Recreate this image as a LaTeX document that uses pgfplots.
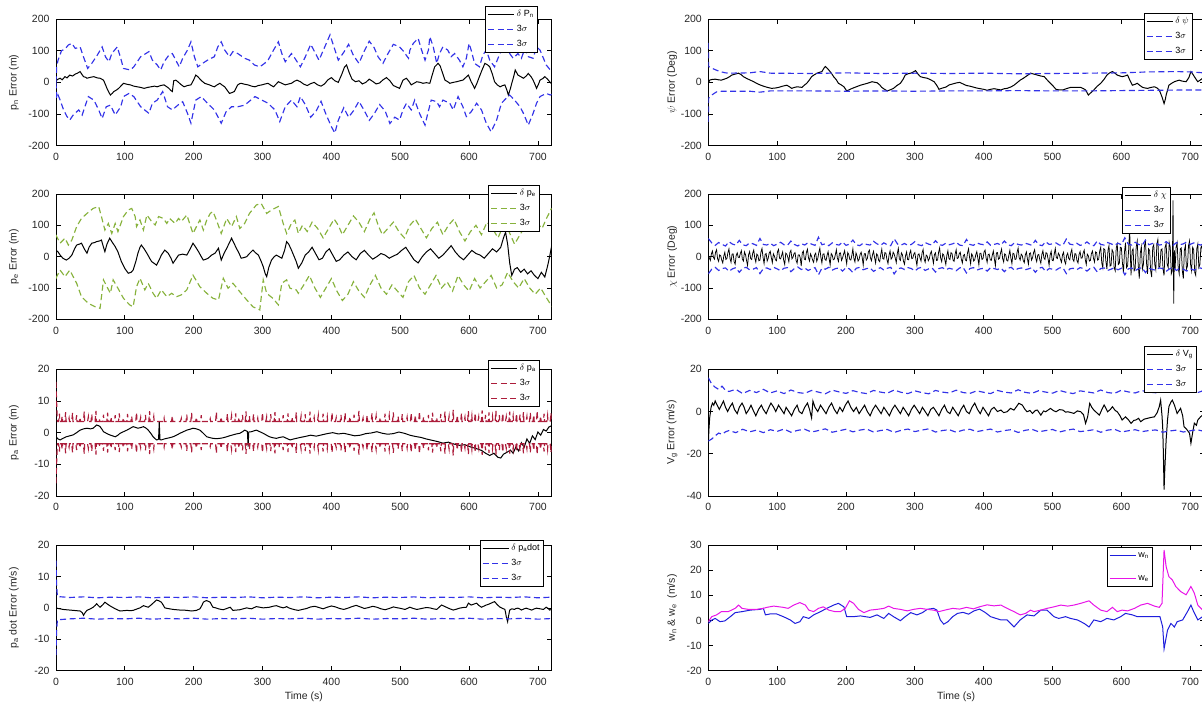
\documentclass[border=0pt]{standalone}
\usepackage{fontspec}
\setmainfont{Liberation Sans}
\usepackage{pgfplots}
\usepackage{pgfplotstable}
\pgfplotsset{compat=1.18}

\definecolor{sigblue}{RGB}{50,50,232}
\definecolor{siggreen}{RGB}{135,178,60}
\definecolor{sigred}{RGB}{172,28,58}
\definecolor{wmag}{RGB}{232,20,232}
\definecolor{wblue}{RGB}{30,30,220}

\pgfplotsset{
  panel/.style={
    scale only axis, width=495.7pt,
    xmin=0, xmax=720, xtick={0,100,...,700},
    tick align=inside, tick pos=both,
    xticklabel pos=lower, yticklabel pos=left,
    axis line style={line width=0.7pt},
    tick style={draw=black, line width=0.7pt},
    major tick length=4.5pt,
    /pgf/number format/assume math mode=true,
    tick label style={font=\fontsize{10.5}{12}\selectfont, text=black!85},
    xticklabel style={yshift=-4pt},
    yticklabel style={xshift=-3pt},
    label style={font=\fontsize{10.5}{12}\selectfont, text=black!85},
    legend cell align=left,
    legend style={font=\fontsize{9}{10}\selectfont, line width=0.7pt,
      fill=white, inner xsep=2pt, inner ysep=1.5pt, row sep=2pt, anchor=north east,
      nodes={inner sep=2pt, text height=7pt, text depth=2pt}},
    legend image code/.code={\draw[##1, line width=1.3pt] (0pt,0pt) -- (26pt,0pt);},
  },
  leftcol/.style={ylabel style={at={(axis description cs:-0.085,0.5)}, anchor=center}},
  rightcol/.style={ylabel style={at={(axis description cs:-0.073,0.5)}, anchor=center}},
  % stroke colours are given with draw= so that they stay on the stroke only
  blk/.style={draw=black, line width=1pt},
  dsh/.style={line width=1.15pt, dash pattern=on 6pt off 3.5pt},
  sb/.style={draw=sigblue, dsh},
  sg/.style={draw=siggreen, dsh},
  sr/.style={draw=sigred, dsh},
}

% 3-sigma bound of the altitude error (GPS update spikes)
\pgfplotstableread[row sep=\\]{
t s\\ 0 16\\ 1 9\\ 2 3.5\\
3.8 3.5\\ 5 6.0\\ 5.6 3.5\\ 7.8 3.5\\ 9 5.2\\ 9.6 3.5\\ 12.8 3.5\\ 14 6.5\\ 14.6 3.5\\
17.8 3.5\\ 19 4.6\\ 19.6 3.5\\ 22.8 3.5\\ 24 6.2\\ 24.6 3.5\\ 28.8 3.5\\ 30 5.5\\ 30.6 3.5\\
33.8 3.5\\ 35 4.8\\ 35.6 3.5\\ 39.8 3.5\\ 41 6.6\\ 41.6 3.5\\ 45.8 3.5\\ 47 5.0\\ 47.6 3.5\\
50.8 3.5\\ 52 5.8\\ 52.6 3.5\\ 56.8 3.5\\ 58 6.9\\ 58.6 3.5\\ 61.8 3.5\\ 63 4.5\\ 63.6 3.5\\
67.8 3.5\\ 69 5.7\\ 69.6 3.5\\ 73.8 3.5\\ 75 6.3\\ 75.6 3.5\\ 78.8 3.5\\ 80 4.9\\ 80.6 3.5\\
84.8 3.5\\ 86 5.5\\ 86.6 3.5\\ 90.8 3.5\\ 92 6.1\\ 92.6 3.5\\ 96.8 3.5\\ 98 4.7\\ 98.6 3.5\\
102.8 3.5\\ 104 5.9\\ 104.6 3.5\\ 108.8 3.5\\ 110 5.2\\ 110.6 3.5\\ 115.8 3.5\\ 117 6.4\\ 117.6 3.5\\
121.8 3.5\\ 123 4.8\\ 123.6 3.5\\ 128.8 3.5\\ 130 5.6\\ 130.6 3.5\\ 134.8 3.5\\ 136 6.8\\ 136.6 3.5\\
140.8 3.5\\ 142 5.1\\ 142.6 3.5\\ 155.8 3.5\\ 157 4.6\\ 157.6 3.5\\ 167.8 3.5\\ 169 5.3\\ 169.6 3.5\\
180.8 3.5\\ 182 4.5\\ 182.6 3.5\\ 188.8 3.5\\ 190 5.7\\ 190.6 3.5\\ 195.8 3.5\\ 197 6.2\\ 197.6 3.5\\
202.8 3.5\\ 204 4.9\\ 204.6 3.5\\ 209.8 3.5\\ 211 5.5\\ 211.6 3.5\\ 222.8 3.5\\ 224 4.4\\ 224.6 3.5\\
231.8 3.5\\ 233 6.5\\ 233.6 3.5\\ 238.8 3.5\\ 240 5.0\\ 240.6 3.5\\ 247.8 3.5\\ 249 6.0\\ 249.6 3.5\\
253.8 3.5\\ 255 5.3\\ 255.6 3.5\\ 259.8 3.5\\ 261 6.1\\ 261.6 3.5\\ 264.8 3.5\\ 266 4.8\\ 266.6 3.5\\
269.8 3.5\\ 271 5.6\\ 271.6 3.5\\ 274.8 3.5\\ 276 6.7\\ 276.6 3.5\\ 279.8 3.5\\ 281 5.2\\ 281.6 3.5\\
285.8 3.5\\ 287 5.9\\ 287.6 3.5\\ 291.8 3.5\\ 293 4.6\\ 293.6 3.5\\ 298.8 3.5\\ 300 6.3\\ 300.6 3.5\\
304.8 3.5\\ 306 5.0\\ 306.6 3.5\\ 310.8 3.5\\ 312 5.8\\ 312.6 3.5\\ 316.8 3.5\\ 318 6.5\\ 318.6 3.5\\
322.8 3.5\\ 324 4.7\\ 324.6 3.5\\ 328.8 3.5\\ 330 5.5\\ 330.6 3.5\\ 335.8 3.5\\ 337 6.1\\ 337.6 3.5\\
341.8 3.5\\ 343 4.9\\ 343.6 3.5\\ 347.8 3.5\\ 349 6.4\\ 349.6 3.5\\ 354.8 3.5\\ 356 5.2\\ 356.6 3.5\\
360.8 3.5\\ 362 5.8\\ 362.6 3.5\\ 367.8 3.5\\ 369 6.6\\ 369.6 3.5\\ 373.8 3.5\\ 375 4.8\\ 375.6 3.5\\
379.8 3.5\\ 381 5.4\\ 381.6 3.5\\ 386.8 3.5\\ 388 6.0\\ 388.6 3.5\\ 392.8 3.5\\ 394 5.1\\ 394.6 3.5\\
399.8 3.5\\ 401 6.3\\ 401.6 3.5\\ 405.8 3.5\\ 407 4.7\\ 407.6 3.5\\ 412.8 3.5\\ 414 5.6\\ 414.6 3.5\\
418.8 3.5\\ 420 6.2\\ 420.6 3.5\\ 425.8 3.5\\ 427 5.0\\ 427.6 3.5\\ 431.8 3.5\\ 433 5.7\\ 433.6 3.5\\
438.8 3.5\\ 440 6.9\\ 440.6 3.5\\ 444.8 3.5\\ 446 4.6\\ 446.6 3.5\\ 450.8 3.5\\ 452 5.5\\ 452.6 3.5\\
457.8 3.5\\ 459 6.1\\ 459.6 3.5\\ 463.8 3.5\\ 465 5.3\\ 465.6 3.5\\ 469.8 3.5\\ 471 4.8\\ 471.6 3.5\\
476.8 3.5\\ 478 6.0\\ 478.6 3.5\\ 482.8 3.5\\ 484 5.4\\ 484.6 3.5\\ 488.8 3.5\\ 490 6.4\\ 490.6 3.5\\
495.8 3.5\\ 497 5.1\\ 497.6 3.5\\ 501.8 3.5\\ 503 5.8\\ 503.6 3.5\\ 508.8 3.5\\ 510 4.9\\ 510.6 3.5\\
514.8 3.5\\ 516 6.2\\ 516.6 3.5\\ 520.8 3.5\\ 522 5.5\\ 522.6 3.5\\ 526.8 3.5\\ 528 6.7\\ 528.6 3.5\\
532.8 3.5\\ 534 5.0\\ 534.6 3.5\\ 539.8 3.5\\ 541 5.6\\ 541.6 3.5\\ 545.8 3.5\\ 547 6.3\\ 547.6 3.5\\
551.8 3.5\\ 553 4.8\\ 553.6 3.5\\ 557.8 3.5\\ 559 5.9\\ 559.6 3.5\\ 563.8 3.5\\ 565 6.6\\ 565.6 3.5\\
569.8 3.5\\ 571 5.2\\ 571.6 3.5\\ 575.8 3.5\\ 577 7.2\\ 577.6 3.5\\ 581.8 3.5\\ 583 5.5\\ 583.6 3.5\\
587.8 3.5\\ 589 6.1\\ 589.6 3.5\\ 592.8 3.5\\ 594 4.9\\ 594.6 3.5\\ 597.8 3.5\\ 599 6.8\\ 599.6 3.5\\
602.8 3.5\\ 604 5.4\\ 604.6 3.5\\ 607.8 3.5\\ 609 6.2\\ 609.6 3.5\\ 612.8 3.5\\ 614 5.0\\ 614.6 3.5\\
617.8 3.5\\ 619 7.0\\ 619.6 3.5\\ 622.8 3.5\\ 624 5.6\\ 624.6 3.5\\ 627.8 3.5\\ 629 6.4\\ 629.6 3.5\\
632.8 3.5\\ 634 5.2\\ 634.6 3.5\\ 637.8 3.5\\ 639 6.9\\ 639.6 3.5\\ 642.8 3.5\\ 644 5.5\\ 644.6 3.5\\
647.8 3.5\\ 649 6.1\\ 649.6 3.5\\ 652.8 3.5\\ 654 5.0\\ 654.6 3.5\\ 657.8 3.5\\ 659 6.6\\ 659.6 3.5\\
662.8 3.5\\ 664 5.3\\ 664.6 3.5\\ 667.8 3.5\\ 669 6.0\\ 669.6 3.5\\ 672.8 3.5\\ 674 5.7\\ 674.6 3.5\\
677.8 3.5\\ 679 6.5\\ 679.6 3.5\\ 682.8 3.5\\ 684 5.1\\ 684.6 3.5\\ 687.8 3.5\\ 689 6.2\\ 689.6 3.5\\
692.8 3.5\\ 694 5.6\\ 694.6 3.5\\ 697.8 3.5\\ 699 6.8\\ 699.6 3.5\\ 702.8 3.5\\ 704 5.2\\ 704.6 3.5\\
707.8 3.5\\ 709 6.0\\ 709.6 3.5\\ 712.8 3.5\\ 714 5.4\\ 714.6 3.5\\ 717.8 3.5\\ 719 6.3\\ 719.6 3.5\\
720 3.5\\
}\pdsigma

\begin{document}
\begin{tikzpicture}[x=1pt,y=1pt]
\useasboundingbox (0,0) rectangle (1202,-705);

% ---------------- north position error ----------------
\begin{axis}[panel, leftcol, at={(56pt,-19pt)}, anchor=north west, height=126.7pt,
  ymin=-200, ymax=200, ytick={-200,-100,0,100,200},
  ylabel={p\textsubscript{n} Error (m)},
  legend style={at={(0.97236,1.102604)}}]
\addplot[blk] coordinates {(0,5)(3,10)(6,13)(9,8)(13,18)(16,14)(20,23)(24,20)(28,26)(32,30)(35,34)(38,24)(40,18)(43,16)(45,13)(50,16)(55,18)(60,14)(64,13)(69,7)(72,-8)(74,-19)(77,-32)(79,-40)(82,-34)(84,-29)(88,-24)(91,-19)(95,-10)(98,-3)(103,-6)(108,-8)(113,-12)(118,-14)(123,-16)(128,-19)(133,-16)(138,-14)(143,-12)(147,-14)(152,-10)(157,-8)(161,-14)(164,-19)(167,-26)(169,-29)(171,5)(174,7)(177,2)(181,-6)(186,-14)(191,-10)(196,-8)(200,8)(203,23)(206,18)(208,13)(212,4)(216,-3)(220,-6)(223,-8)(227,-12)(230,-14)(234,-8)(238,-3)(241,-8)(245,-14)(249,-26)(252,-35)(256,-32)(259,-29)(262,-16)(264,-8)(267,-4)(269,-3)(274,-6)(279,-8)(284,-12)(289,-14)(294,-10)(299,-8)(304,-5)(308,-3)(312,-9)(316,-14)(320,-5)(323,2)(328,-3)(333,-8)(338,-5)(342,-3)(346,3)(350,7)(355,2)(360,-6)(365,-10)(370,-4)(375,0)(380,-8)(385,-12)(390,-5)(395,8)(400,15)(405,5)(410,0)(415,25)(419,48)(422,55)(426,30)(430,10)(435,2)(440,5)(445,-5)(450,0)(455,10)(460,3)(465,-5)(470,-2)(475,8)(480,15)(485,5)(490,-10)(495,-15)(499,-19)(504,7)(509,13)(513,2)(516,-8)(520,-3)(524,2)(529,0)(533,-3)(538,-1)(543,-3)(546,20)(550,49)(555,60)(558,52)(560,39)(563,20)(565,7)(569,2)(572,-3)(577,0)(582,2)(587,5)(591,7)(595,15)(599,23)(603,2)(606,-10)(608,-19)(611,-5)(615,18)(619,40)(623,60)(627,55)(630,49)(634,25)(637,2)(641,-8)(645,-14)(649,-10)(652,-8)(655,-25)(657,-40)(660,-20)(662,-3)(665,20)(667,39)(671,23)(675,18)(679,13)(683,20)(686,28)(690,18)(693,7)(696,-8)(698,-19)(701,-5)(703,7)(707,12)(710,18)(714,10)(717,2)(720,-5)};
\addlegendentry{$\delta$ P\textsubscript{n}}
\addplot[sb] coordinates {(0,0)(1,50)(3,70)(8,100)(13,105)(18,118)(23,123)(28,107)(35,112)(40,80)(46,44)(52,60)(60,86)(67,112)(72,80)(77,65)(81,91)(89,112)(94,76)(98,44)(108,39)(113,49)(123,81)(135,97)(140,70)(147,55)(152,39)(157,65)(164,86)(169,91)(174,70)(179,49)(184,76)(191,102)(196,128)(201,81)(206,49)(213,60)(220,70)(230,81)(235,112)(240,128)(245,102)(252,81)(257,97)(264,91)(274,76)(281,70)(288,55)(296,49)(303,60)(308,70)(316,102)(323,128)(328,91)(333,65)(342,91)(347,76)(355,49)(362,80)(370,120)(376,95)(382,70)(390,110)(398,150)(404,110)(410,70)(418,95)(425,120)(432,85)(440,60)(448,100)(455,130)(462,110)(468,80)(475,60)(482,90)(490,120)(499,112)(504,100)(507,91)(512,76)(514,102)(519,123)(526,139)(531,102)(536,70)(541,102)(543,144)(548,112)(553,60)(557,91)(562,112)(569,102)(574,81)(579,91)(586,70)(591,49)(596,76)(600,123)(603,102)(608,60)(615,49)(620,86)(625,102)(630,70)(637,49)(642,76)(647,102)(652,118)(659,91)(664,76)(671,91)(676,76)(681,107)(686,81)(693,76)(698,112)(703,102)(708,76)(712,55)(718,39)(720,40)};
\addlegendentry{3$\sigma$}
\addplot[sb] coordinates {(0,0)(1,-50)(3,-40)(6,-56)(11,-87)(16,-108)(20,-119)(25,-103)(33,-87)(38,-103)(42,-77)(47,-45)(55,-56)(62,-87)(67,-114)(73,-77)(79,-72)(86,-103)(94,-77)(98,-45)(106,-35)(113,-45)(123,-77)(135,-98)(140,-66)(147,-56)(155,-29)(162,-77)(169,-87)(177,-72)(184,-61)(191,-98)(196,-129)(203,-56)(211,-45)(220,-66)(230,-87)(240,-129)(247,-93)(255,-77)(264,-77)(274,-72)(289,-45)(299,-56)(308,-66)(318,-87)(325,-124)(333,-77)(342,-56)(350,-77)(355,-45)(362,-70)(370,-110)(378,-90)(385,-60)(392,-100)(400,-140)(405,-160)(410,-120)(418,-80)(425,-110)(432,-90)(440,-60)(448,-90)(455,-120)(462,-100)(470,-70)(478,-90)(485,-130)(492,-110)(499,-119)(504,-87)(509,-66)(516,-87)(521,-56)(528,-98)(536,-135)(540,-98)(545,-56)(553,-61)(557,-77)(562,-56)(572,-66)(577,-87)(584,-45)(591,-77)(596,-108)(603,-93)(611,-66)(618,-87)(625,-129)(632,-156)(640,-119)(647,-66)(654,-50)(659,-40)(666,-56)(674,-77)(679,-98)(686,-135)(693,-98)(698,-66)(703,-45)(712,-35)(718,-40)(720,-38)};
\addlegendentry{3$\sigma$}
\end{axis}

% ---------------- east position error ----------------
\begin{axis}[panel, leftcol, at={(56pt,-194pt)}, anchor=north west, height=125.3pt,
  ymin=-200, ymax=200, ytick={-200,-100,0,100,200},
  ylabel={p\textsubscript{e} Error (m)},
  legend style={at={(0.97640,1.071828)}}]
\addplot[blk] coordinates {(0,21)(3,15)(6,5)(10,-5)(15,-11)(19,-5)(23,5)(27,25)(30,37)(34,40)(37,43)(41,25)(45,11)(48,30)(52,43)(56,45)(59,48)(63,50)(66,53)(69,30)(71,16)(74,40)(78,59)(82,45)(86,32)(90,15)(95,-16)(100,-38)(105,-53)(109,-50)(112,-43)(116,-15)(119,11)(122,30)(124,37)(128,25)(132,11)(136,-5)(139,-16)(143,-22)(146,-27)(150,-10)(153,5)(158,21)(163,11)(167,-5)(170,-21)(174,-8)(178,5)(184,8)(190,5)(195,25)(199,43)(203,30)(207,16)(211,0)(214,-11)(218,-8)(221,-5)(226,5)(231,11)(236,27)(240,-11)(244,10)(248,27)(252,45)(255,59)(258,45)(262,27)(266,10)(269,-5)(273,-3)(277,0)(281,10)(286,21)(290,12)(294,5)(298,-15)(301,-32)(304,-55)(306,-64)(309,-35)(313,-11)(317,0)(320,5)(324,0)(328,-5)(332,20)(335,48)(338,40)(342,21)(346,0)(349,-16)(352,-37)(357,-20)(362,5)(367,15)(372,30)(377,10)(382,-10)(387,-5)(392,15)(397,25)(402,5)(407,-15)(412,-10)(418,5)(424,15)(430,0)(436,-10)(442,10)(448,20)(454,5)(460,-8)(466,0)(472,10)(478,5)(484,-5)(490,2)(496,8)(502,20)(508,30)(514,10)(520,-10)(526,-20)(532,0)(538,15)(544,25)(550,10)(556,-5)(562,5)(568,20)(574,35)(580,15)(586,0)(592,-10)(598,5)(604,20)(610,10)(616,5)(622,-5)(628,10)(634,25)(640,15)(646,30)(650,60)(653,78)(656,40)(659,-20)(662,-60)(666,-40)(670,-35)(675,-50)(680,-40)(685,-55)(690,-45)(695,-60)(700,-70)(705,-50)(710,-65)(714,-30)(717,0)(720,35)};
\addlegendentry{$\delta$ p\textsubscript{e}}
\addplot[sg] coordinates {(0,70)(1,64)(6,43)(13,59)(18,37)(23,53)(30,96)(37,122)(45,138)(54,154)(62,160)(66,128)(71,85)(76,106)(81,74)(86,106)(90,80)(98,128)(105,149)(110,154)(115,128)(117,96)(122,117)(127,85)(132,133)(139,112)(144,101)(149,128)(156,122)(161,106)(165,122)(173,106)(178,122)(182,112)(190,133)(199,74)(204,96)(209,117)(214,85)(219,117)(224,138)(228,144)(233,117)(240,74)(248,122)(255,96)(262,128)(267,90)(274,106)(281,138)(291,165)(298,170)(306,138)(313,149)(323,160)(330,106)(335,74)(342,106)(347,117)(352,74)(358,100)(365,80)(372,110)(380,90)(388,60)(396,90)(404,120)(410,100)(416,70)(424,100)(432,130)(440,110)(448,80)(456,120)(462,140)(468,100)(474,70)(482,90)(490,110)(498,80)(506,60)(514,100)(522,120)(530,90)(538,60)(546,90)(554,110)(562,70)(570,100)(578,120)(586,80)(594,50)(602,80)(610,100)(618,70)(626,110)(634,90)(642,60)(650,100)(658,80)(666,40)(674,70)(682,100)(690,80)(698,110)(706,90)(712,120)(720,155)};
\addlegendentry{3$\sigma$}
\addplot[sg] coordinates {(0,-70)(1,-64)(6,-43)(13,-64)(20,-43)(30,-85)(37,-128)(47,-149)(57,-160)(64,-165)(69,-74)(74,-96)(79,-117)(83,-74)(90,-101)(98,-133)(107,-154)(112,-160)(117,-96)(122,-69)(129,-106)(134,-85)(141,-117)(146,-133)(153,-106)(161,-128)(168,-117)(175,-128)(182,-122)(190,-106)(199,-59)(209,-96)(219,-117)(228,-133)(236,-138)(243,-69)(250,-101)(257,-85)(267,-112)(277,-138)(286,-160)(296,-170)(301,-74)(306,-117)(315,-133)(323,-154)(328,-85)(335,-74)(340,-101)(349,-106)(352,-117)(360,-90)(368,-60)(376,-100)(384,-130)(392,-100)(400,-70)(408,-110)(416,-140)(424,-120)(432,-80)(440,-110)(448,-130)(456,-90)(464,-60)(472,-100)(480,-120)(488,-90)(496,-110)(504,-130)(512,-80)(520,-60)(528,-100)(536,-120)(544,-90)(552,-60)(560,-100)(568,-80)(576,-110)(584,-60)(592,-90)(600,-110)(608,-70)(616,-100)(624,-80)(632,-60)(640,-100)(648,-90)(656,-50)(664,-80)(672,-100)(680,-70)(688,-100)(696,-120)(704,-100)(712,-130)(720,-158)};
\addlegendentry{3$\sigma$}
\end{axis}

% ---------------- altitude error ----------------
\begin{axis}[panel, leftcol, at={(56pt,-369.3pt)}, anchor=north west, height=126.7pt,
  ymin=-20, ymax=20, ytick={-20,-10,0,10,20},
  ylabel={p\textsubscript{a} Error (m)},
  legend style={at={(0.97640,1.073402)}}]
\addplot[blk] coordinates {(0,-1.3)(3,-2)(6,-2.3)(10,-1.8)(15,-1.3)(20,-1)(25,-0.7)(30,0)(35,0.8)(40,1.2)(45,1.4)(50,1.2)(54,1.4)(59,2.4)(62,2.2)(64,1.9)(67,1)(69,0.3)(74,-0.3)(78,-0.7)(82,-1)(86,-1.3)(90,-0.8)(93,-0.2)(98,0.3)(103,0.8)(108,1.4)(112,1.9)(115,1.7)(119,1.4)(123,1.6)(127,1.9)(131,1.4)(134,0.8)(138,-0.3)(141,-1.3)(144,-1.9)(146,-2.3)(148,-2.2)(149,-2)(150,3.5)(151,-2.2)(153,-2.3)(157,-2)(161,-1.8)(165,-1.6)(170,-1.3)(175,-0.8)(180,-0.2)(185,0.3)(190,0.8)(195,1.1)(199,1.4)(204,1.2)(209,0.8)(214,-0.2)(219,-1.3)(224,-1.6)(228,-1.8)(233,-1.9)(238,-1.8)(243,-1.6)(248,-1.3)(252,-1)(257,-0.7)(262,-0.4)(267,-0.2)(271,0.3)(274,0.8)(277,0.5)(278,0.4)(279,-4.4)(280,0.2)(284,0.3)(288,0.6)(291,0.8)(296,0.3)(301,-0.2)(305,-0.7)(310,-1.3)(315,-1.6)(320,-1.8)(325,-1.5)(330,-1.3)(335,-1.8)(340,-2.3)(345,-2)(349,-1.8)(355,-1.5)(362,-1.2)(370,-0.8)(378,-1.1)(386,-0.7)(394,-0.3)(402,0)(410,-0.4)(418,-0.2)(426,-0.6)(434,-1)(442,-0.8)(450,-0.3)(458,-0.1)(466,0.3)(474,-0.2)(482,-0.5)(490,-0.3)(498,0.2)(506,-0.2)(514,-0.8)(522,-1.2)(530,-1.5)(538,-2)(546,-2.4)(554,-2.8)(562,-3.3)(570,-3.0)(578,-3.6)(586,-4.0)(594,-3.8)(602,-4.5)(610,-5.0)(618,-5.6)(624,-6.5)(630,-7.2)(636,-6.5)(642,-7.8)(646,-8.0)(650,-6.8)(655,-6.2)(660,-5.5)(664,-6.5)(668,-4.5)(672,-5.8)(676,-3.2)(680,-4.6)(684,-2.0)(688,-3.4)(692,-1.0)(696,-2.2)(700,0.2)(704,-0.8)(708,1)(712,0.5)(716,1.8)(720,2.2)};
\addlegendentry{$\delta$ p\textsubscript{a}}
\addplot[sr] table[x=t, y=s] {\pdsigma};
\addlegendentry{3$\sigma$}
\addplot[sr] table[x=t, y expr=-\thisrow{s}] {\pdsigma};
\addlegendentry{3$\sigma$}
\end{axis}

% ---------------- climb-rate error ----------------
\begin{axis}[panel, leftcol, at={(56pt,-545pt)}, anchor=north west, height=125.7pt,
  ymin=-20, ymax=20, ytick={-20,-10,0,10,20},
  ylabel={p\textsubscript{a} dot Error (m/s)}, xlabel={Time (s)},
  xlabel style={at={(axis description cs:0.5,-0.209)}, anchor=center},
  legend style={at={(0.98447,1.039777)}}]
\addplot[blk] coordinates {(0,0)(3,-0.2)(6,-0.3)(10,-0.5)(15,-0.6)(20,-0.7)(25,-0.8)(30,-0.9)(35,-1)(38,-1.5)(40,-2.4)(42,-1.6)(45,-0.8)(50,-0.3)(54,0.2)(57,0.8)(59,1.3)(62,0.6)(64,0.2)(68,1.0)(71,1.8)(74,1.3)(78,0.7)(82,0.2)(86,-0.3)(90,-0.7)(93,-1)(98,-0.9)(103,-0.8)(108,-0.9)(112,-0.8)(117,-0.4)(122,0)(127,0.7)(131,0.4)(134,0.2)(138,0.9)(141,1.5)(144,2.1)(146,2.5)(150,2.2)(153,1.8)(156,0.8)(158,0)(162,-0.2)(165,-0.3)(170,-0.5)(175,-0.6)(180,-0.7)(185,-0.7)(190,-0.8)(197,-1)(204,-0.8)(209,-0.3)(212,0.8)(214,1.8)(217,2.2)(219,2.3)(222,2.0)(224,1.8)(226,0.9)(228,0.2)(232,0)(236,-0.3)(240,-0.5)(243,-0.6)(248,-0.2)(253,0.2)(255,-0.3)(257,-0.8)(262,-0.7)(267,-0.6)(272,-0.3)(277,0)(281,-0.2)(284,-0.3)(288,0.1)(291,0.4)(296,0.2)(301,0)(306,0.1)(310,0.2)(315,0.5)(320,0.7)(325,0.3)(330,0)(333,0.2)(335,0.4)(338,0)(342,-0.3)(347,-0.6)(352,-0.8)(358,-0.5)(364,-0.2)(370,0.3)(376,0.5)(382,0.1)(388,-0.3)(394,0.2)(400,0.6)(406,0.3)(412,-0.2)(418,-0.5)(424,-0.1)(430,0.4)(436,0.8)(442,0.3)(448,-0.2)(454,0.1)(460,0.5)(466,0.2)(472,-0.3)(478,-0.6)(484,-0.2)(490,0.3)(494,0.1)(499,-0.1)(503,-0.3)(507,-0.5)(511,-0.1)(514,0.2)(519,-0.2)(524,-0.5)(529,-0.3)(533,-0.1)(538,0.1)(543,0)(548,-0.3)(553,-0.5)(557,0.3)(560,0.9)(564,0.5)(567,0.2)(572,-0.3)(577,-0.7)(582,-0.4)(586,-0.1)(591,0.1)(596,0.2)(599,1.5)(601,1.2)(603,0.9)(607,1.2)(611,1.5)(614,0.8)(618,0.2)(622,0.6)(625,0.9)(629,1.2)(632,1.5)(635,1.8)(637,2.0)(641,1.0)(645,0.2)(649,-0.2)(652,-0.5)(653,-1.5)(654,-2.8)(656,-4.4)(657,-3)(659,-0.7)(662,-0.3)(666,-0.5)(668,-0.2)(671,-0.1)(674,-0.4)(676,-0.7)(680,-0.3)(683,-0.1)(687,-0.4)(691,-0.7)(695,-0.3)(698,-0.1)(703,-0.3)(708,-0.5)(712,0.2)(715,-0.2)(717,-0.7)(720,-0.5)};
\addlegendentry{$\delta$ p\textsubscript{a}dot}
\addplot[sb] coordinates {(0,15)(1,7)(2,3.6)(20,3.3)(40,3.5)(60,3.2)(80,3.4)(100,3.3)(120,3.5)(140,3.2)(160,3.4)(180,3.3)(200,3.5)(220,3.2)(240,3.4)(260,3.3)(280,3.5)(300,3.2)(320,3.4)(340,3.3)(360,3.5)(380,3.2)(400,3.4)(420,3.3)(440,3.5)(460,3.2)(480,3.4)(500,3.3)(520,3.5)(540,3.2)(560,3.4)(580,3.3)(600,3.5)(620,3.2)(640,3.4)(660,3.3)(680,3.5)(700,3.2)(720,3.4)};
\addlegendentry{3$\sigma$}
\addplot[sb] coordinates {(0,-15)(1,-7)(2,-3.8)(20,-3.5)(40,-3.3)(60,-3.6)(80,-3.4)(100,-3.5)(120,-3.3)(140,-3.6)(160,-3.4)(180,-3.5)(200,-3.3)(220,-3.6)(240,-3.4)(260,-3.5)(280,-3.3)(300,-3.6)(320,-3.4)(340,-3.5)(360,-3.3)(380,-3.6)(400,-3.4)(420,-3.5)(440,-3.3)(460,-3.6)(480,-3.4)(500,-3.5)(520,-3.3)(540,-3.6)(560,-3.4)(580,-3.5)(600,-3.3)(620,-3.6)(640,-3.4)(660,-3.5)(680,-3.3)(700,-3.6)(720,-3.4)};
\addlegendentry{3$\sigma$}
\end{axis}

% ---------------- heading error ----------------
\begin{axis}[panel, rightcol, at={(708.3pt,-19pt)}, anchor=north west, height=126.7pt,
  ymin=-200, ymax=200, ytick={-200,-100,0,100,200},
  ylabel={$\psi$ Error (Deg)},
  legend style={at={(0.97781,1.047356)}}]
\addplot[blk] coordinates {(0,-3)(2,7)(5,9)(10,10)(15,8)(19,7)(23,10)(27,13)(31,18)(34,23)(39,26)(44,29)(48,24)(51,18)(56,12)(61,7)(66,2)(70,-3)(75,-8)(80,-12)(86,-16)(92,-19)(97,-18)(102,-16)(108,-12)(114,-9)(118,-14)(121,-19)(125,-16)(129,-14)(133,-15)(136,-16)(140,-8)(143,-3)(147,8)(150,18)(154,24)(158,29)(162,32)(165,34)(168,45)(170,50)(173,44)(175,39)(179,28)(182,18)(186,8)(189,-3)(193,-8)(197,-14)(201,-27)(205,-23)(209,-19)(215,-14)(221,-9)(226,-6)(231,-3)(238,2)(242,0)(245,-1)(249,-8)(252,-16)(256,-22)(260,-27)(265,-23)(269,-19)(274,-10)(279,-3)(283,10)(286,23)(290,27)(294,29)(298,33)(301,37)(305,25)(308,18)(313,15)(318,13)(323,8)(328,2)(332,-10)(335,-22)(340,-18)(345,-15)(350,-8)(355,-5)(360,-2)(365,0)(370,-5)(375,-10)(380,-12)(385,-15)(390,-18)(395,-20)(400,-22)(405,-25)(410,-22)(415,-20)(420,-22)(425,-24)(430,-20)(434,-19)(440,-14)(444,-9)(448,-2)(453,7)(457,12)(461,18)(465,24)(468,29)(473,26)(478,23)(483,20)(488,18)(492,8)(497,-3)(501,-12)(505,-22)(510,-24)(515,-24)(520,-20)(526,-16)(533,-16)(541,-16)(545,-20)(548,-24)(550,-32)(552,-40)(556,-32)(560,-24)(565,-12)(570,-3)(575,10)(579,23)(583,30)(587,34)(590,30)(594,23)(598,20)(601,18)(605,20)(609,23)(612,8)(616,-9)(620,-6)(623,-3)(627,-10)(631,-16)(635,-18)(638,-19)(643,-16)(648,-14)(652,-18)(655,-24)(657,-35)(659,-46)(661,-60)(662,-67)(664,-52)(665,-40)(667,-25)(669,-9)(673,-3)(677,2)(681,5)(684,7)(688,4)(694,2)(698,15)(701,34)(704,25)(706,18)(709,8)(711,2)(715,8)(718,13)(720,10)};
\addlegendentry{$\delta$ $\psi$}
\addplot[sb] coordinates {(0,125)(0.5,50)(5,45)(10,40)(17,34)(25,30)(30,29)(60,30)(75,34)(90,29)(150,28)(200,30)(250,28)(300,29)(350,28)(400,29)(450,27)(500,28)(550,29)(600,30)(640,33)(680,34)(700,33)(720,30)};
\addlegendentry{3$\sigma$}
\addplot[sb] coordinates {(0,-125)(0.5,-50)(5,-40)(12,-30)(20,-28)(60,-28)(75,-31)(90,-27)(150,-27)(200,-28)(250,-27)(300,-28)(350,-27)(400,-27)(450,-26)(500,-27)(550,-27)(600,-26)(650,-25)(700,-24)(720,-24)};
\addlegendentry{3$\sigma$}
\end{axis}

% ---------------- course error ----------------
\begin{axis}[panel, rightcol, at={(708.3pt,-194pt)}, anchor=north west, height=125.3pt,
  ymin=-200, ymax=200, ytick={-200,-100,0,100,200},
  ylabel={$\chi$ Error (Deg)},
  legend style={at={(0.93343,1.055866)}}]
\addplot[draw=black, line width=0.75pt] coordinates {(0,5)(1.5,-4)(3,-12)(4.5,9)(6,18)(7.5,-3)(9,-8)(10.5,14)(12,22)(13.5,-7)(15,-15)(16.5,6)(18,3)(19.5,-11)(21,-20)(22.5,2)(24,14)(25.5,-9)(27,-6)(28.5,13)(30,25)(31.5,-5)(33,-18)(34.5,8)(36,9)(37.5,-16)(39,-24)(40.5,4)(42,12)(43.5,-2)(45,-3)(46.5,10)(48,19)(49.5,-8)(51,-14)(52.5,15)(54,7)(55.5,-12)(57,-28)(58.5,6)
(60,16)(61.5,-6)(63,-9)(64.5,11)(66,21)(67.5,-4)(69,-17)(70.5,8)(72,4)(73.5,-13)(75,-11)(76.5,15)(78,26)(79.5,-2)(81,-22)(82.5,7)(84,10)(85.5,-14)(87,-5)(88.5,12)(90,17)(91.5,-3)(93,-19)(94.5,9)(96,2)(97.5,-10)(99,-13)(100.5,16)(102,23)(103.5,-5)(105,-7)(106.5,4)(108,15)(109.5,-12)(111,-25)(112.5,11)(114,8)(115.5,-2)(117,-16)(118.5,13)
(120,20)(121.5,-7)(123,-2)(124.5,10)(126,13)(127.5,-12)(129,-21)(130.5,5)(132,6)(133.5,-3)(135,-30)(136.5,12)(138,18)(139.5,-8)(141,-10)(142.5,14)(144,24)(145.5,-4)(147,-14)(148.5,9)(150,1)(151.5,-11)(153,-18)(154.5,6)(156,11)(157.5,-15)(159,-6)(160.5,13)(162,27)(163.5,-2)(165,-20)(166.5,8)(168,9)(169.5,-9)(171,-12)(172.5,4)(174,16)(175.5,-6)(177,-26)(178.5,10)
(180,5)(181.5,-10)(183,-8)(184.5,6)(186,22)(187.5,-5)(189,-15)(190.5,11)(192,12)(193.5,-12)(195,-4)(196.5,8)(198,19)(199.5,-3)(201,-23)(202.5,13)(204,7)(205.5,-9)(207,-11)(208.5,4)(210,25)(211.5,-6)(213,-17)(214.5,12)(216,3)(217.5,-14)(219,-9)(220.5,7)(222,14)(223.5,-2)(225,-27)(226.5,9)(228,10)(229.5,-11)(231,-6)(232.5,15)(234,21)(235.5,-4)(237,-13)(238.5,6)
(240,17)(241.5,-3)(243,-20)(244.5,9)(246,4)(247.5,-12)(249,-16)(250.5,7)(252,24)(253.5,-6)(255,-8)(256.5,13)(258,11)(259.5,-10)(261,-22)(262.5,5)(264,18)(265.5,-8)(267,-3)(268.5,14)(270,8)(271.5,-4)(273,-19)(274.5,10)(276,26)(277.5,-7)(279,-12)(280.5,12)(282,6)(283.5,-15)(285,-24)(286.5,3)(288,15)(289.5,-9)(291,-10)(292.5,11)(294,20)(295.5,-6)(297,-5)(298.5,8)
(300,13)(301.5,-9)(303,-28)(304.5,6)(306,9)(307.5,-4)(309,-14)(310.5,12)(312,23)(313.5,-8)(315,-18)(316.5,5)(318,2)(319.5,-13)(321,-7)(322.5,10)(324,17)(325.5,-3)(327,-21)(328.5,7)(330,12)(331.5,-12)(333,-11)(334.5,14)(336,28)(337.5,-5)(339,-16)(340.5,9)(342,5)(343.5,-10)(345,-25)(346.5,4)(348,19)(349.5,-6)(351,-9)(352.5,13)(354,10)(355.5,-11)(357,-15)(358.5,8)
(360,22)(361.5,-6)(363,-4)(364.5,10)(366,14)(367.5,-8)(369,-20)(370.5,4)(372,7)(373.5,-11)(375,-13)(376.5,12)(378,25)(379.5,-3)(381,-23)(382.5,9)(384,3)(385.5,-14)(387,-10)(388.5,6)(390,16)(391.5,-5)(393,-26)(394.5,11)(396,11)(397.5,-9)(399,-6)(400.5,15)(402,21)(403.5,-4)(405,-18)(406.5,7)(408,8)(409.5,-10)(411,-12)(412.5,5)(414,18)(415.5,-7)(417,-29)(418.5,12)
(420,13)(421.5,-8)(423,-5)(424.5,12)(426,24)(427.5,-6)(429,-17)(430.5,9)(432,6)(433.5,-12)(435,-14)(436.5,4)(438,20)(439.5,-5)(441,-22)(442.5,11)(444,9)(445.5,-9)(447,-8)(448.5,14)(450,27)(451.5,-3)(453,-11)(454.5,8)(456,4)(457.5,-13)(459,-19)(460.5,6)(462,15)(463.5,-7)(465,-24)(466.5,10)(468,12)(469.5,-11)(471,-3)(472.5,13)(474,22)(475.5,-4)(477,-16)(478.5,5)
(480,7)(481.5,-10)(483,-21)(484.5,7)(486,19)(487.5,-4)(489,-9)(490.5,13)(492,10)(493.5,-7)(495,-27)(496.5,5)(498,17)(499.5,-12)(501,-13)(502.5,9)(504,26)(505.5,-3)(507,-6)(508.5,11)(510,5)(511.5,-9)(513,-18)(514.5,6)(516,14)(517.5,-14)(519,-23)(520.5,4)(522,11)(523.5,-6)(525,-10)(526.5,12)(528,23)(529.5,-8)(531,-15)(532.5,10)(534,8)(535.5,-13)(537,-20)(538.5,7)
(540,16)(541.5,-5)(543,-4)(544.5,12)(546,21)(547.5,-9)(549,-25)(550.5,8)(552,3)(553.5,-14)(555,-12)(556.5,10)(558,18)(559.5,-6)(561,-17)(562.5,15)(564,13)(565.5,-11)(567,-8)(568.5,18)(570,30)(571.5,-20)(573,-35)(574.5,25)(576,22)(577.5,-15)(579,-40)(580.5,20)(582,35)(583.5,-30)(585,-28)(586.5,22)(588,15)(589.5,-35)(591,-45)(592.5,28)(594,40)(595.5,-25)(597,-22)(598.5,30)
(600,28)(601.5,-20)(603,-50)(604.5,15)(606,45)(607.5,-35)(609,-30)(610.5,20)(612,90)(613,10)(614,-60)(615.5,18)(617,25)(618.5,-45)(620,-38)(621.5,30)(623,50)(624.5,-28)(626,-70)(627.5,12)(629,32)(630.5,-40)(632,-25)(633.5,35)(635,48)(636.5,-20)(638,-55)(639.5,25)(641,20)(642.5,-45)(644,-65)(645.5,30)(647,38)(648.5,-25)(650,-42)(651.5,40)(653,55)(654.5,-35)(656,-30)(657.5,22)
(659,25)(660.5,-40)(662,-60)(663.5,30)(665,42)(666.5,-25)(668,-35)(669.5,45)(671,30)(672.5,-55)(674,-45)(675,180)(676,-150)(677,20)(678,-40)(679.5,30)(681,45)(682.5,-35)(684,-55)(685.5,25)(687,28)(688.5,-45)(690,-70)(691.5,20)(693,36)(694.5,-40)(696,-30)(697.5,35)(699,50)(700.5,-25)(702,-45)(703.5,30)(705,22)(706.5,-50)(708,-60)(709.5,25)(711,40)(712.5,-35)(714,-25)(715.5,30)(717,35)(718.5,-20)(720,-10)};
\addlegendentry{$\delta$ $\chi$}
\addplot[sb] coordinates {(0,58)(5,44)(10,36)(15,45)(20,39)(25,34)(30,48)(35,40)(40,37)(45,52)(50,38)(55,35)(60,44)(65,41)(70,36)(75,58)(80,39)(85,37)(90,43)(95,35)(100,40)(105,46)(110,38)(115,36)(120,50)(125,39)(130,34)(135,42)(140,37)(145,45)(150,40)(155,36)(160,62)(165,38)(170,41)(175,35)(180,44)(185,39)(190,37)(195,47)(200,36)(205,40)(210,53)(215,38)(220,35)(225,43)(230,39)(235,37)(240,49)(245,41)(250,36)(255,44)(260,38)(265,35)(270,57)(275,40)(280,37)(285,42)(290,36)(295,39)(300,48)(305,38)(310,35)(315,45)(320,40)(325,37)(330,51)(335,39)(340,36)(345,43)(350,38)(355,41)(360,46)(365,37)(370,35)(375,55)(380,39)(385,36)(390,44)(395,40)(400,38)(405,47)(410,36)(415,39)(420,42)(425,37)(430,50)(435,38)(440,35)(445,45)(450,39)(455,37)(460,43)(465,40)(470,36)(475,52)(480,38)(485,35)(490,48)(495,39)(500,41)(505,44)(510,37)(515,36)(520,56)(525,40)(530,38)(535,43)(540,36)(545,39)(550,47)(555,38)(560,35)(565,50)(570,39)(575,37)(580,45)(585,41)(590,36)(595,43)(600,38)(605,60)(610,40)(615,37)(620,46)(625,39)(630,36)(635,53)(640,38)(645,42)(650,44)(655,37)(660,39)(665,48)(670,40)(675,36)(680,45)(685,38)(690,41)(695,47)(700,39)(705,44)(710,40)(715,37)(720,42)};
\addlegendentry{3$\sigma$}
\addplot[sb] coordinates {(0,-55)(5,-40)(10,-34)(15,-44)(20,-38)(25,-36)(30,-47)(35,-39)(40,-35)(45,-50)(50,-37)(55,-34)(60,-42)(65,-40)(70,-35)(75,-54)(80,-38)(85,-36)(90,-41)(95,-34)(100,-39)(105,-45)(110,-37)(115,-35)(120,-48)(125,-38)(130,-33)(135,-41)(140,-36)(145,-44)(150,-39)(155,-35)(160,-58)(165,-37)(170,-40)(175,-34)(180,-43)(185,-38)(190,-36)(195,-46)(200,-35)(205,-39)(210,-51)(215,-37)(220,-34)(225,-42)(230,-38)(235,-36)(240,-47)(245,-40)(250,-35)(255,-43)(260,-37)(265,-34)(270,-55)(275,-39)(280,-36)(285,-41)(290,-35)(295,-38)(300,-46)(305,-37)(310,-34)(315,-44)(320,-39)(325,-36)(330,-49)(335,-38)(340,-35)(345,-42)(350,-37)(355,-40)(360,-45)(365,-36)(370,-34)(375,-52)(380,-38)(385,-35)(390,-43)(395,-39)(400,-37)(405,-46)(410,-35)(415,-38)(420,-41)(425,-36)(430,-48)(435,-37)(440,-34)(445,-44)(450,-38)(455,-36)(460,-42)(465,-39)(470,-35)(475,-50)(480,-37)(485,-34)(490,-47)(495,-38)(500,-40)(505,-43)(510,-36)(515,-35)(520,-54)(525,-39)(530,-37)(535,-42)(540,-35)(545,-38)(550,-46)(555,-37)(560,-34)(565,-49)(570,-38)(575,-36)(580,-44)(585,-40)(590,-35)(595,-42)(600,-37)(605,-58)(610,-39)(615,-36)(620,-45)(625,-38)(630,-35)(635,-51)(640,-37)(645,-41)(650,-43)(655,-36)(660,-38)(665,-47)(670,-39)(675,-35)(680,-44)(685,-37)(690,-40)(695,-46)(700,-38)(705,-43)(710,-39)(715,-36)(720,-41)};
\addlegendentry{3$\sigma$}
\end{axis}

% ---------------- ground speed error ----------------
\begin{axis}[panel, rightcol, at={(708.3pt,-369.3pt)}, anchor=north west, height=126.7pt,
  ymin=-40, ymax=20, ytick={-40,-20,0,20},
  ylabel={V\textsubscript{g} Error (m/s)},
  legend style={at={(0.98588,1.183899)}}]
\addplot[blk] coordinates {(0,-15)(1,-8)(2,-3)(4,2)(6,4)(8,3)(10,5)(13,3)(16,1)(19,3)(22,5)(25,2)(28,0)(31,2)(35,4)(38,1)(42,-1)(45,2)(49,4)(52,2)(55,-1)(59,1)(62,3)(66,0)(69,-2)(73,1)(77,3)(80,1)(84,-1)(88,2)(91,4)(95,2)(98,0)(102,3)(106,1)(110,-1)(113,2)(117,0)(121,-2)(125,1)(129,3)(132,0)(136,-1)(140,2)(144,4)(147,1)(150,-3)(152,5)(155,2)(159,0)(163,3)(167,1)(171,-1)(175,2)(179,4)(183,1)(187,-1)(191,2)(195,0)(199,3)(203,5)(207,2)(211,0)(215,2)(219,-1)(223,1)(227,3)(231,0)(235,-2)(239,1)(243,3)(247,1)(251,-1)(255,2)(259,0)(263,-2)(267,1)(271,3)(275,1)(279,-1)(283,2)(287,0)(291,-2)(295,1)(299,3)(303,1)(307,-1)(311,2)(315,0)(319,-2)(323,1)(327,2)(331,0)(335,-2)(339,1)(343,3)(347,0)(351,-1)(355,2)(359,0)(363,-2)(367,1)(371,3)(375,0)(379,-1)(383,2)(387,4)(391,1)(395,-1)(399,2)(403,0)(407,-2)(411,1)(415,2)(420,0)(425,0.7)(429,-0.5)(434,-0.1)(439,1.5)(444,0.7)(448,2.5)(451,3.9)(456,3.1)(460,1)(463,-0.1)(467,0.5)(471,-0.9)(475,0.5)(478,0.7)(483,-1.7)(487,0.3)(490,-0.1)(494,0.8)(497,1.5)(501,0.5)(505,-0.1)(510,0.9)(515,0.7)(519,-0.3)(522,-0.1)(527,-0.5)(531,-0.9)(536,0.3)(541,-0.1)(545,-1.5)(548,-5.6)(551,-2.5)(554,3.9)(557,2)(560,0.7)(564,-0.5)(568,-1.7)(572,1.2)(575,3.1)(580,-0.1)(584,1)(587,2.3)(591,0.5)(594,-0.1)(598,-2)(601,-4)(606,-2.5)(610,-3.8)(614,-5.6)(618,-4.2)(621,-4)(625,-3.2)(628,-4.8)(633,-3.6)(638,-3.2)(643,-2.8)(648,-2.5)(652,-0.5)(655,2.3)(657,5.4)(659,-2)(660,-7.2)(661,-20)(662,-37)(663,-28)(665,-13.5)(667,-4)(669,2.3)(672,4.5)(674,5.4)(677,3.1)(681,-0.9)(686,1.5)(689,-2)(691,-7.2)(695,-8.5)(699,-10.3)(701,-15)(704,-9)(706,-5.5)(709,-6.5)(711,-4)(715,-2.5)(718,-1.7)(720,-0.5)};
\addlegendentry{$\delta$ V\textsubscript{g}}
\addplot[sb] coordinates {(0,16)(5,13)(10,11.5)(15,10.5)(20,12)(25,10)(30,9.5)(40,10.5)(50,8.5)(60,10)(70,9)(80,10.5)(90,8.8)(100,9.8)(110,8.5)(120,10.2)(130,9)(140,8.6)(150,10)(160,9.2)(170,8.4)(180,10.1)(190,9.3)(200,8.6)(210,9.9)(220,9)(230,8.5)(240,10)(250,9.2)(260,8.7)(270,10.2)(280,9.1)(290,8.5)(300,9.8)(310,9.0)(320,8.4)(330,10)(340,9.2)(350,8.8)(360,10.1)(370,9)(380,8.6)(390,9.8)(400,9.1)(410,8.5)(420,10)(430,9.2)(440,8.8)(450,10.3)(460,9.1)(470,8.6)(480,9.9)(490,9.2)(500,8.7)(510,10)(520,9.1)(530,8.5)(540,9.8)(550,9.3)(560,8.8)(570,10.2)(580,9)(590,8.6)(600,10.1)(610,9.3)(620,8.8)(630,9.9)(640,9.2)(650,8.9)(660,10.3)(670,9.5)(680,9)(690,10.2)(700,9.4)(710,8.9)(720,10)};
\addlegendentry{3$\sigma$}
\addplot[sb] coordinates {(0,-14)(5,-13)(10,-11.5)(15,-10.2)(20,-10.8)(25,-9.6)(30,-9)(40,-10)(50,-8.4)(60,-9.6)(70,-8.8)(80,-10)(90,-8.6)(100,-9.4)(110,-8.3)(120,-9.8)(130,-8.9)(140,-8.4)(150,-9.7)(160,-9)(170,-8.2)(180,-9.8)(190,-9.1)(200,-8.4)(210,-9.6)(220,-8.8)(230,-8.3)(240,-9.7)(250,-9)(260,-8.5)(270,-9.9)(280,-8.9)(290,-8.3)(300,-9.5)(310,-8.8)(320,-8.2)(330,-9.7)(340,-9)(350,-8.6)(360,-9.8)(370,-8.8)(380,-8.4)(390,-9.5)(400,-8.9)(410,-8.3)(420,-9.7)(430,-9)(440,-8.6)(450,-9.9)(460,-8.9)(470,-8.4)(480,-9.6)(490,-9)(500,-8.5)(510,-9.7)(520,-8.9)(530,-8.3)(540,-9.5)(550,-9.1)(560,-8.6)(570,-9.8)(580,-8.8)(590,-8.4)(600,-9.7)(610,-9.1)(620,-8.6)(630,-9.5)(640,-9)(650,-8.7)(660,-9.8)(670,-9.2)(680,-8.8)(690,-9.7)(700,-9.1)(710,-8.6)(720,-9.4)};
\addlegendentry{3$\sigma$}
\end{axis}

% ---------------- wind estimates ----------------
\begin{axis}[panel, rightcol, at={(708.3pt,-545pt)}, anchor=north west, height=125.7pt,
  ymin=-20, ymax=30, ytick={-20,-10,0,10,20,30},
  ylabel={w\textsubscript{n} \& w\textsubscript{e}~~(m/s)}, xlabel={Time (s)},
  xlabel style={at={(axis description cs:0.5,-0.209)}, anchor=center},
  legend style={at={(0.89712,0.984089)}, row sep=10pt}]
\addplot[draw=wblue, line width=1pt] coordinates {(0,-1.2)(5,0.1)(10,0.8)(17,-0.5)(24,-0.2)(32,1.5)(39,3.1)(49,3.5)(61,4.1)(75,4.4)(80,4.8)(83,2.2)(90,2.6)(99,2.6)(109,1.5)(119,0.2)(126,-1.2)(133,-0.5)(138,1.5)(146,0.8)(153,2.2)(163,3.5)(172,4.8)(182,6.1)(189,6.8)(197,5.4)(201,1.5)(211,1.5)(221,1.8)(235,1.2)(245,2.2)(255,0.8)(262,2.8)(269,1.5)(279,-0.1)(286,1.5)(294,3.1)(303,2.2)(311,3.1)(318,4.4)(327,4.8)(332,4.1)(337,0.2)(342,-1.5)(348,-0.5)(355,1.5)(362,2.8)(370,3.2)(378,2.5)(386,3.8)(394,4.5)(402,3.2)(410,1.5)(418,0.8)(425,0.2)(434,0.2)(444,-2.6)(453,0.2)(463,2.2)(473,1.8)(483,4.1)(492,4.1)(502,1.5)(509,0.8)(519,1.5)(526,0.8)(536,0.2)(546,-1.2)(553,-2.6)(560,0.2)(570,-0.5)(579,0.8)(589,0.2)(599,1.5)(606,2.8)(616,2.2)(623,1.5)(633,1.5)(648,1.5)(656,1.5)(660,-2.6)(662,-11.3)(667,-3.9)(672,-1.2)(677,-2.6)(681,-0.5)(689,0.2)(696,3.5)(701,6.1)(705,3.5)(711,0.2)(718,1.5)(720,1.8)};
\addlegendentry{w\textsubscript{n}}
\addplot[draw=wmag, line width=1pt] coordinates {(0,-0.5)(5,1.5)(12,2.2)(19,3.5)(29,3.5)(39,4.8)(44,6.1)(49,4.8)(58,4.4)(70,4.4)(80,4.8)(85,5.2)(95,5.7)(109,5.2)(116,4.8)(124,6.1)(133,7.1)(141,6.1)(146,4.1)(153,3.5)(160,4.8)(167,5.4)(175,4.1)(184,3.5)(192,3.5)(199,4.8)(205,7.8)(211,6.8)(218,4.4)(226,3.1)(235,4.1)(245,4.4)(255,4.8)(262,5.7)(269,4.8)(279,4.4)(289,3.8)(298,4.4)(308,4.8)(318,4.4)(327,4.1)(335,3.5)(345,4.2)(355,4.8)(365,4.5)(375,5.2)(385,4.6)(395,5.5)(405,6.2)(415,5.8)(425,6.1)(434,4.8)(444,3.5)(453,2.2)(461,2.8)(468,4.1)(473,3.5)(483,4.1)(492,4.8)(502,5.4)(512,6.1)(522,5.7)(531,6.1)(541,6.8)(553,7.8)(560,6.1)(570,4.1)(579,3.5)(587,5.2)(594,3.5)(601,4.1)(609,3.8)(619,4.8)(628,6.1)(638,6.8)(648,5.7)(655,5.2)(659,6.8)(662,28)(665,21.4)(669,17.4)(674,16.1)(679,13.5)(686,11.5)(694,10.2)(701,13.5)(706,10.8)(711,6.1)(718,4.1)(720,3.8)};
\addlegendentry{w\textsubscript{e}}
\end{axis}
\end{tikzpicture}
\end{document}
